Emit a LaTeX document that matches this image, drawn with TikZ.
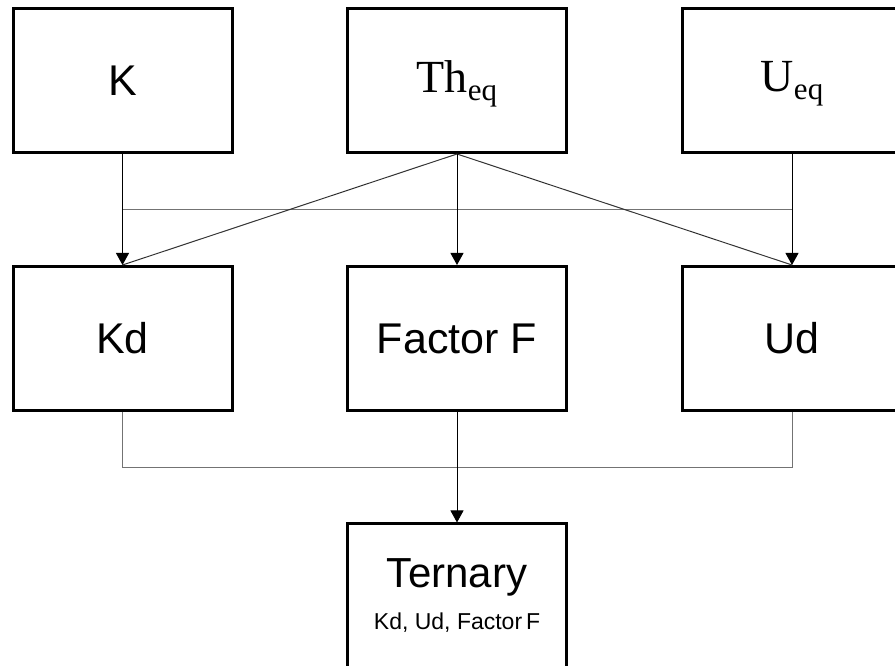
\documentclass[tikz,border=0pt]{standalone}
\usepackage{fontspec}
\setmainfont{Liberation Sans}
\newfontfamily\eqfont{Liberation Serif}
\usetikzlibrary{arrows.meta}

\begin{document}
\begin{tikzpicture}[x=1pt,y=1pt]
    \tikzset{box/.style = {%
        shape= rectangle,
        draw, line width= 3pt,
        minimum width= 219pt,
        minimum height= 144pt,
        align= center,
        font= \fontsize{43}{46}\selectfont},
      eqbox/.style = {box, font= \eqfont\fontsize{46}{48}\selectfont},
      link/.style = {line width= 1pt, black},
      feed/.style = {link, -{Triangle[width=13pt,length=12pt]}},
      rail/.style = {line width= 1pt, black!55}}
    \useasboundingbox (0,0) rectangle (895,666);
    % inputs
    \node[box] (K)    at (122.5,585.5) {K};
    \node[eqbox] (Theq) at (457,585.5) {Th\raisebox{-8pt}{\smash{\fontsize{31}{31}\selectfont eq}}};
    \node[eqbox] (Ueq)  at (792,585.5) {U\raisebox{-8pt}{\smash{\fontsize{31}{31}\selectfont eq}}};
    % derived
    \node[box] (Kd) at (122.5,327.5) {Kd};
    \node[box] (F)  at (457,327.5) {Factor F};
    \node[box] (Ud) at (792,327.5) {Ud};
    \node[box] (Ternary) at (457,70) {\fontsize{42}{44}\selectfont Ternary\\[-4pt]
        \fontsize{23}{26}\selectfont Kd, Ud, Factor\,F};
    \coordinate (topL) at (122.5,456);
    \coordinate (topR) at (792,456);
    \coordinate (botL) at (122.5,198);
    \coordinate (botR) at (792,198);
    \draw[rail] (topL) -- (topR);
    \draw[feed] (K) -- (Kd);
    \draw[feed] (Ueq) -- (Ud);
    \draw[link, black!80] (Theq.south) -- (Kd.north);
    \draw[link, black!80] (Theq.south) -- (Ud.north);
    \draw[feed] (Theq) -- (F);
    \draw[rail] (Kd.south) -- (botL) -- (botR) -- (Ud.south);
    \draw[feed] (F) -- (Ternary);
  \end{tikzpicture}
\end{document}
